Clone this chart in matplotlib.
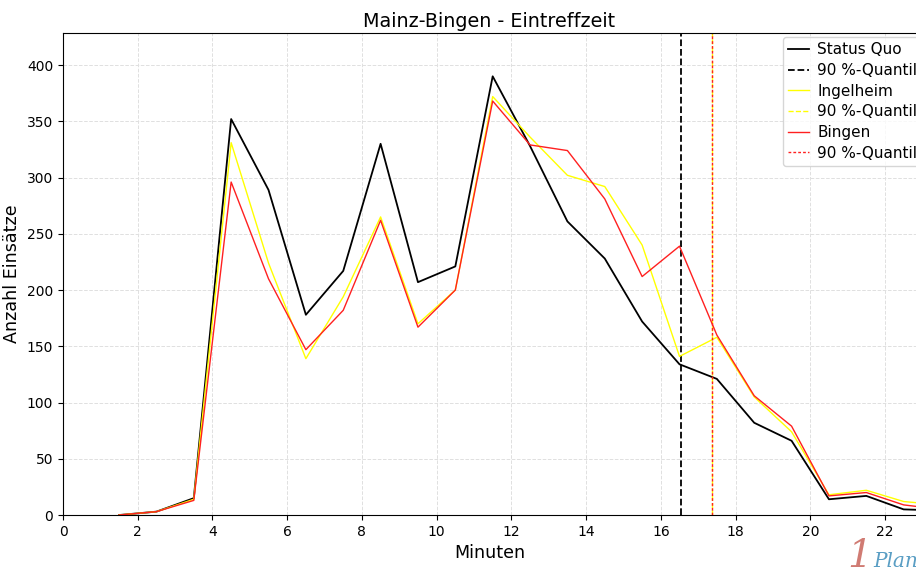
import matplotlib
matplotlib.use("Agg")
import matplotlib.pyplot as plt

minutes = [1.5, 2.5, 3.5, 4.5, 5.5, 6.5, 7.5, 8.5, 9.5, 10.5, 11.5, 12.5,
           13.5, 14.5, 15.5, 16.5, 17.5, 18.5, 19.5, 20.5, 21.5, 22.5, 23.5]
status_quo = [0, 3, 15, 352, 289, 178, 217, 330, 207, 221, 390, 328,
              261, 228, 172, 134, 121, 82, 66, 14, 17, 5, 4]
ingelheim = [0, 3, 14, 331, 224, 139, 194, 265, 170, 200, 372, 336,
             302, 292, 240, 141, 158, 105, 74, 18, 22, 12, 9]
bingen = [0, 3, 13, 296, 210, 147, 182, 262, 167, 200, 368, 329,
          324, 281, 212, 239, 160, 106, 79, 17, 20, 9, 5]
q90_status_quo = 16.54
q90_ingelheim = 17.38
q90_bingen = 17.38

fig = plt.figure(figsize=(9.16, 5.83), dpi=100)
ax = fig.add_axes([0.0688, 0.1166, 0.9312, 0.8268])

ax.plot(minutes, status_quo, color="black", lw=1.3, label="Status Quo")
ax.axvline(q90_status_quo, color="black", ls="--", lw=1.3, label="90 %-Quantil")
ax.plot(minutes, ingelheim, color="#ffff00", lw=1.0, label="Ingelheim")
ax.axvline(q90_ingelheim, color="#ffff00", ls="--", lw=1.0, label="90 %-Quantil")
ax.plot(minutes, bingen, color="#ff2020", lw=1.0, label="Bingen")
ax.axvline(q90_bingen, color="#ff2020", ls="--", lw=1.0, dashes=(2, 1.5), label="90 %-Quantil")

ax.set_xlim(0, 22.83)
ax.set_ylim(0, 428.5)
ax.set_xticks(range(0, 23, 2))
ax.set_yticks(range(0, 401, 50))
ax.tick_params(labelsize=10)
ax.grid(True, color="#e0e0e0", ls="--", lw=0.7)
ax.set_axisbelow(True)
ax.spines["right"].set_visible(False)

ax.set_title("Mainz-Bingen - Eintreffzeit", fontsize=13.8, pad=4)
ax.set_xlabel("Minuten", fontsize=12.6)
ax.set_ylabel("Anzahl Einsätze", fontsize=12.6)

leg = ax.legend(loc="upper left", bbox_to_anchor=(0.844, 0.992), fontsize=11,
                borderaxespad=0.0, handlelength=1.37, handletextpad=0.5,
                labelspacing=0.37, borderpad=0.36, fancybox=True)

fig.text(0.925, 0.0274, "1", color="#c8645a", fontsize=28, style="italic",
         family="DejaVu Serif", ha="left", va="baseline", alpha=0.85)
fig.text(0.953, 0.0274, "Plan", color="#5a9ec4", fontsize=14.5, style="italic",
         family="DejaVu Serif", ha="left", va="baseline")

fig.savefig("out.png", dpi=100)
